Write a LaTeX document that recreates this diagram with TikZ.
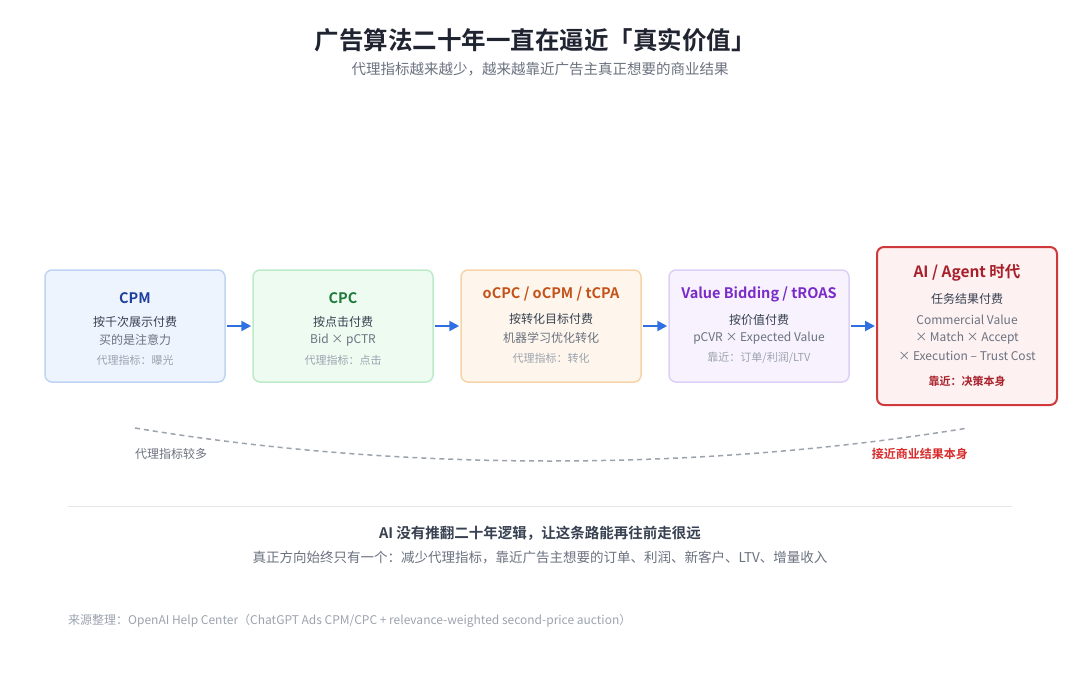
\documentclass[tikz,border=0pt]{standalone}
\usepackage{fontspec}
\setmainfont{Noto Sans CJK SC}[BoldFont={Noto Sans CJK SC Bold}]
\usetikzlibrary{arrows.meta}
\definecolor{tcol}{HTML}{1F2430}
\definecolor{subcol}{HTML}{6B7280}
\definecolor{bodycol}{HTML}{374151}
\definecolor{midcol}{HTML}{6B7280}
\definecolor{lightcol}{HTML}{9CA3AF}
\definecolor{arrcol}{HTML}{2F6FE0}
\definecolor{bfill}{HTML}{EEF4FE}\definecolor{bdraw}{HTML}{BFD4F5}\definecolor{btxt}{HTML}{1F3F9E}
\definecolor{gfill}{HTML}{EEFBF1}\definecolor{gdraw}{HTML}{BDEBC9}\definecolor{gtxt}{HTML}{1E7A3A}
\definecolor{ofill}{HTML}{FEF6EC}\definecolor{odraw}{HTML}{F6D3A8}\definecolor{otxt}{HTML}{C4531A}
\definecolor{pfill}{HTML}{F7F2FE}\definecolor{pdraw}{HTML}{DDCFF7}\definecolor{ptxt}{HTML}{7A2BC8}
\definecolor{rfill}{HTML}{FDF1F1}\definecolor{rdraw}{HTML}{D0393B}\definecolor{rtxt}{HTML}{A8202A}
\definecolor{redlab}{HTML}{D92B2B}
\definecolor{rulecol}{HTML}{E5E7EB}
\tikzset{
  x=1pt,y=-1pt,
  card/.style={draw, line width=1.5pt, rounded corners=7pt, minimum width=180pt, minimum height=112pt, inner sep=0pt},
  ttl/.style={font=\fontsize{14.5}{16}\selectfont\bfseries, anchor=center},
  body/.style={font=\fontsize{12}{14}\selectfont, text=bodycol, anchor=center},
  mid/.style={font=\fontsize{12}{14}\selectfont, text=midcol, anchor=center},
  small/.style={font=\fontsize{11}{13}\selectfont, text=lightcol, anchor=center},
  flow/.style={draw=arrcol, line width=2pt, -{Triangle[length=10pt,width=10pt]}, shorten >=1pt, shorten <=1pt},
}
\begin{document}
\begin{tikzpicture}
\useasboundingbox[fill=white] (0,0) rectangle (1080,675);
% title
\node[font=\fontsize{24.5}{27}\selectfont\bfseries, text=tcol] (title) at (535,40) {广告算法二十年一直在逼近「真实价值」};
\node[font=\fontsize{14.5}{16}\selectfont, text=subcol] (sub) at (540,69) {代理指标越来越少，越来越靠近广告主真正想要的商业结果};
% cards
\node[card, fill=bfill, draw=bdraw] (c1) at (135,326) {};
\node[card, fill=gfill, draw=gdraw] (c2) at (343,326) {};
\node[card, fill=ofill, draw=odraw] (c3) at (551,326) {};
\node[card, fill=pfill, draw=pdraw] (c4) at (759,326) {};
\node[card, fill=rfill, draw=rdraw, line width=2pt, minimum height=158pt] (c5) at (967,326) {};
% card 1
\node[ttl, text=btxt] (t1) at (135,298) {CPM};
\node[body] (a1) at (135,322) {按千次展示付费};
\node[mid] (b1) at (135,340) {买的是注意力};
\node[small] (s1) at (135,360) {代理指标：曝光};
% card 2
\node[ttl, text=gtxt] (t2) at (343,298) {CPC};
\node[body] (a2) at (343,322) {按点击付费};
\node[mid] (b2) at (343,340) {Bid × pCTR};
\node[small] (s2) at (343,360) {代理指标：点击};
% card 3
\node[ttl, text=otxt] (t3) at (551,294) {oCPC / oCPM / tCPA};
\node[body] (a3) at (551,319) {按转化目标付费};
\node[mid] (b3) at (551,338) {机器学习优化转化};
\node[small] (s3) at (551,358) {代理指标：转化};
% card 4
\node[ttl, text=ptxt] (t4) at (759,294) {Value Bidding / tROAS};
\node[body] (a4) at (759,320) {按价值付费};
\node[mid] (b4) at (759,338) {pCVR × Expected Value};
\node[small] (s4) at (759,358) {靠近：订单/利润/LTV};
% card 5
\node[ttl, text=rtxt, font=\fontsize{15.5}{17}\selectfont\bfseries] (t5) at (967,273) {AI / Agent 时代};
\node[body] (a5) at (967,299) {任务结果付费};
\node[mid] (b5) at (967,320) {Commercial Value};
\node[mid] (m5) at (967,338) {× Match × Accept};
\node[mid] (e5) at (967,356) {× Execution – Trust Cost};
\node[small, text=rtxt, font=\fontsize{11}{13}\selectfont\bfseries] (s5) at (967,381) {靠近：决策本身};
% arrows
\draw[flow] (c1.east) -- (c2.west);
\draw[flow] (c2.east) -- (c3.west);
\draw[flow] (c3.east) -- (c4.west);
\draw[flow] (c4.east) -- (c5.west);
% dashed curve
\coordinate (L) at (135,428);
\coordinate (R) at (968,428);
\draw[draw=lightcol, line width=1.5pt, dash pattern=on 5pt off 4pt] (L) .. controls (400,472) and (700,472) .. (R);
\node[font=\fontsize{12}{14}\selectfont, text=midcol, anchor=west, inner sep=0pt] (ll) at (135,454) {代理指标较多};
\node[font=\fontsize{12}{14}\selectfont\bfseries, text=redlab, anchor=east, inner sep=0pt] (rl) at (968,454) {接近商业结果本身};
% rule
\coordinate (r1) at (68,506);
\coordinate (r2) at (1012,506);
\draw[draw=rulecol, line width=1pt] (r1) -- (r2);
\node[font=\fontsize{14.5}{16}\selectfont\bfseries, text=bodycol] (concl) at (540,533) {AI 没有推翻二十年逻辑，让这条路能再往前走很远};
\node[font=\fontsize{13.5}{15}\selectfont, text=midcol] (concl2) at (540,557) {真正方向始终只有一个：减少代理指标，靠近广告主想要的订单、利润、新客户、LTV、增量收入};
\node[font=\fontsize{12}{14}\selectfont, text=lightcol, anchor=west, inner sep=0pt] (src) at (68,621) {来源整理：OpenAI Help Center（ChatGPT Ads CPM/CPC + relevance-weighted second-price auction）};
\end{tikzpicture}
\end{document}
